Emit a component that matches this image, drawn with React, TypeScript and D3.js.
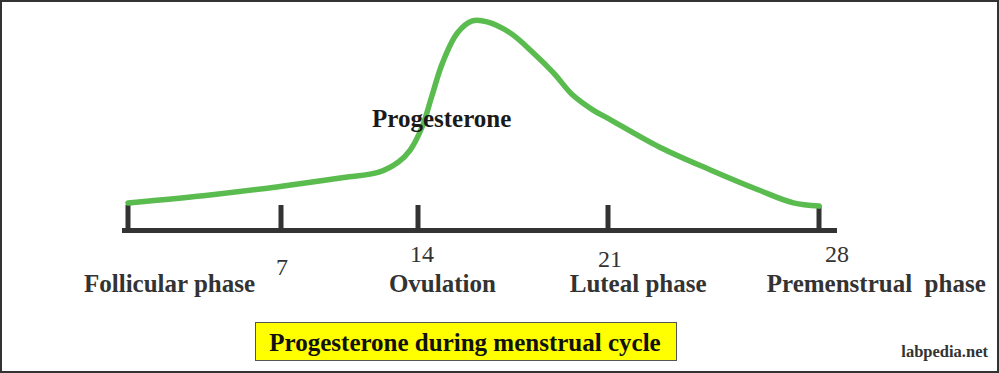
import React, { useEffect, useRef } from "react";
import * as d3 from "d3";

// cycle days shown as ticks
const tickDays = [0, 7, 14, 21, 28];
const tickLabels = ["", "7", "14", "21", "28"];

// progesterone curve (day of cycle, relative level)
const curveDays = [0, 3.75, 6.8, 10.2, 12.0, 13.0, 13.6, 14.15, 14.5, 14.9, 15.45, 16.0, 16.55, 17.4, 18.25, 19.0, 19.7, 20.45, 21.1, 22.7, 24.4, 26.0, 27.15, 28];
const curveLevels = [0.62, 1.03, 1.44, 1.92, 2.2, 2.72, 3.33, 4.51, 6.05, 7.79, 9.33, 9.95, 9.9, 9.33, 8.31, 7.28, 6.15, 5.38, 4.87, 3.49, 2.31, 1.28, 0.62, 0.46];

// phase names and the day they sit under
const phaseNames = ["Follicular phase", "Ovulation", "Luteal phase", "Premenstrual\u00a0\u00a0phase"];
const phaseDays = [1.9, 14.9, 22, 29.9];

const curveName = "Progesterone";
const title = "Progesterone during menstrual cycle";
const credit = "labpedia.net";

const W = 999;
const H = 373;

export default function App() {
  const ref = useRef<SVGSVGElement>(null);

  useEffect(() => {
    const svg = d3.select(ref.current);
    svg.selectAll("*").remove();

    // day ticks in the drawing are not evenly spaced, so the scale is piecewise
    const x = d3.scaleLinear().domain(tickDays).range([128, 281, 418, 608, 819]);
    const y = d3.scaleLinear().domain([0, 10]).range([215, 20]);
    const axisY = 230.5;
    const serif = "'Liberation Serif', 'Times New Roman', serif";

    // frame
    svg.append("rect")
      .attr("x", 1).attr("y", 1)
      .attr("width", W - 2).attr("height", H - 2)
      .attr("fill", "white")
      .attr("stroke", "#333")
      .attr("stroke-width", 2);

    // axis line
    svg.append("line")
      .attr("x1", 122).attr("x2", 837)
      .attr("y1", axisY).attr("y2", axisY)
      .attr("stroke", "#333")
      .attr("stroke-width", 5);

    // ticks
    svg.selectAll(".tick")
      .data(tickDays)
      .enter()
      .append("line")
      .attr("x1", d => x(d)).attr("x2", d => x(d))
      .attr("y1", 205).attr("y2", axisY)
      .attr("stroke", "#333")
      .attr("stroke-width", 5);

    // tick numbers (they sit a bit unevenly in the original)
    const numDx = [0, 1, 4, 2, 18];
    const numY = [0, 275, 262, 267, 262];
    svg.selectAll(".num")
      .data(tickDays)
      .enter()
      .append("text")
      .attr("x", (d, i) => x(d) + numDx[i])
      .attr("y", (d, i) => numY[i])
      .attr("text-anchor", "middle")
      .attr("font-family", serif)
      .attr("font-size", 24)
      .attr("fill", "#333")
      .text((d, i) => tickLabels[i]);

    // phase labels
    svg.selectAll(".phase")
      .data(phaseNames)
      .enter()
      .append("text")
      .attr("x", (d, i) => x(phaseDays[i]))
      .attr("y", 292)
      .attr("text-anchor", "middle")
      .attr("font-family", serif)
      .attr("font-weight", "bold")
      .attr("font-size", 25)
      .attr("fill", "#333")
      .text(d => d);

    // progesterone curve
    const line = d3.line<number>()
      .x((d, i) => x(curveDays[i]))
      .y(d => y(d))
      .curve(d3.curveCatmullRom.alpha(0.5));

    svg.append("path")
      .datum(curveLevels)
      .attr("d", line)
      .attr("fill", "none")
      .attr("stroke", "#5abb4f")
      .attr("stroke-width", 5.5)
      .attr("stroke-linecap", "round")
      .attr("stroke-linejoin", "round");

    // curve label
    svg.append("text")
      .attr("x", 372).attr("y", 127)
      .attr("font-family", serif)
      .attr("font-weight", "bold")
      .attr("font-size", 25)
      .attr("fill", "#1a1a1a")
      .text(curveName);

    // title box
    svg.append("rect")
      .attr("x", 255.5).attr("y", 322.5)
      .attr("width", 421).attr("height", 38)
      .attr("fill", "#ffff00")
      .attr("stroke", "#555")
      .attr("stroke-width", 1);

    svg.append("text")
      .attr("x", 465).attr("y", 351)
      .attr("text-anchor", "middle")
      .attr("font-family", serif)
      .attr("font-weight", "bold")
      .attr("font-size", 25)
      .attr("fill", "#111")
      .text(title);

    // watermark
    svg.append("text")
      .attr("x", 988).attr("y", 357)
      .attr("text-anchor", "end")
      .attr("font-family", serif)
      .attr("font-weight", "bold")
      .attr("font-size", 16.5)
      .attr("fill", "#333")
      .text(credit);
  }, []);

  return (
    <svg
      ref={ref}
      width={W}
      height={H}
      style={{ position: "absolute", left: 0, top: 0, display: "block" }}
    />
  );
}
